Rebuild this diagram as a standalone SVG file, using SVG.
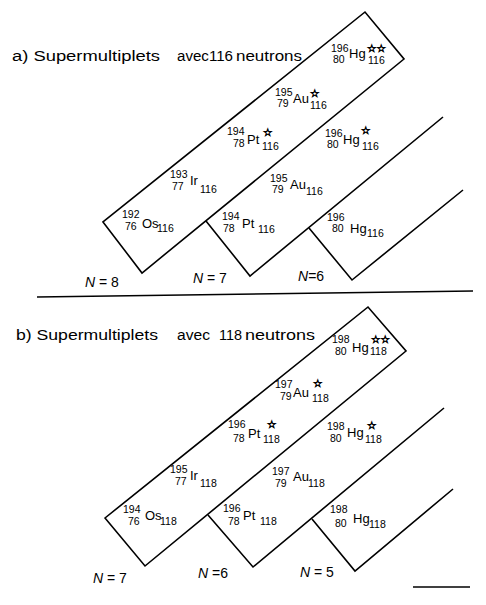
<svg xmlns="http://www.w3.org/2000/svg" width="486" height="605" viewBox="0 0 486 605">
<style>
.ln{fill:none;stroke:#000;stroke-width:1.6;stroke-linejoin:miter}
.t{font-family:"Liberation Sans",Arial,sans-serif;fill:#000}
.ttl{font-size:14px}
.num{font-size:10.5px}
.sym{font-size:13px}
.star{font-family:"DejaVu Sans",sans-serif;font-size:10.5px;fill:#000;stroke:#000;stroke-width:0.7}
.nl{font-family:"Liberation Sans",Arial,sans-serif;font-size:14px;fill:#000}
.ni{font-style:italic}
</style>
<rect width="486" height="605" fill="#fff"/>
<g id="connectors">
<polygon class="ln" points="103,222 142,273 404,59 365,12"/>
<polyline class="ln" points="206,221 250,276 443,117"/>
<polyline class="ln" points="309,228 352,280 463,190"/>
<line class="ln" x1="37" y1="297" x2="473" y2="291"/>
<polygon class="ln" points="105,518 145,566 406,351 368,307"/>
<polyline class="ln" points="208,515 253,567 444,408"/>
<polyline class="ln" points="312,519 355,571 453,489"/>
<line class="ln" x1="413" y1="587" x2="470" y2="587"/>
</g>
<g id="title-a" class="t ttl">
<text x="12" y="61" textLength="148" lengthAdjust="spacingAndGlyphs">a) Supermultiplets</text>
<text x="177" y="61" textLength="56" lengthAdjust="spacingAndGlyphs">avec116</text>
<text x="236" y="61" textLength="66" lengthAdjust="spacingAndGlyphs">neutrons</text>
</g>
<g id="title-b" class="t ttl">
<text x="16" y="340" textLength="142" lengthAdjust="spacingAndGlyphs">b) Supermultiplets</text>
<text x="177" y="340" textLength="33" lengthAdjust="spacingAndGlyphs">avec</text>
<text x="219" y="340" textLength="23" lengthAdjust="spacingAndGlyphs">118</text>
<text x="245" y="340" textLength="70" lengthAdjust="spacingAndGlyphs">neutrons</text>
</g>
<!-- section a -->
<g id="a-hg196-2" class="t">
<text class="num" x="331" y="52">196</text><text class="num" x="333" y="63">80</text>
<text class="sym" x="349" y="58">Hg</text><text class="star" x="367" y="52">☆☆</text><text class="num" x="368" y="64">116</text>
</g>
<g id="a-au195-1" class="t">
<text class="num" x="275" y="96">195</text><text class="num" x="277" y="107">79</text>
<text class="sym" x="293" y="103">Au</text><text class="star" x="310" y="97">☆</text><text class="num" x="310" y="109">116</text>
</g>
<g id="a-pt194-1" class="t">
<text class="num" x="227" y="135">194</text><text class="num" x="233" y="147">78</text>
<text class="sym" x="247" y="144">Pt</text><text class="star" x="263" y="136">☆</text><text class="num" x="262" y="150">116</text>
</g>
<g id="a-ir193" class="t">
<text class="num" x="170" y="178">193</text><text class="num" x="172" y="190">77</text>
<text class="sym" x="190" y="185">Ir</text><text class="num" x="200" y="193">116</text>
</g>
<g id="a-os192" class="t">
<text class="num" x="122" y="218">192</text><text class="num" x="125" y="230">76</text>
<text class="sym" x="142" y="228">Os</text><text class="num" x="157" y="232">116</text>
</g>
<g id="a-hg196-1" class="t">
<text class="num" x="325" y="137">196</text><text class="num" x="327" y="148">80</text>
<text class="sym" x="343" y="144">Hg</text><text class="star" x="361" y="134">☆</text><text class="num" x="362" y="150">116</text>
</g>
<g id="a-au195" class="t">
<text class="num" x="270" y="182">195</text><text class="num" x="272" y="193">79</text>
<text class="sym" x="290" y="189">Au</text><text class="num" x="306" y="195">116</text>
</g>
<g id="a-pt194" class="t">
<text class="num" x="222" y="220">194</text><text class="num" x="223" y="232">78</text>
<text class="sym" x="242" y="228">Pt</text><text class="num" x="258" y="233">116</text>
</g>
<g id="a-hg196" class="t">
<text class="num" x="327" y="221">196</text><text class="num" x="332" y="232">80</text>
<text class="sym" x="350" y="233">Hg</text><text class="num" x="367" y="237">116</text>
</g>
<g id="a-n8"><text class="nl" x="85" y="287"><tspan class="ni">N</tspan> = 8</text></g>
<g id="a-n7"><text class="nl" x="193" y="283"><tspan class="ni">N</tspan> = 7</text></g>
<g id="a-n6"><text class="nl" x="298" y="281"><tspan class="ni">N</tspan>=6</text></g>
<!-- section b -->
<g id="b-hg198-2" class="t">
<text class="num" x="332" y="343">198</text><text class="num" x="335" y="355">80</text>
<text class="sym" x="352" y="352">Hg</text><text class="star" x="371" y="343">☆☆</text><text class="num" x="370" y="355">118</text>
</g>
<g id="b-au197-1" class="t">
<text class="num" x="275" y="388">197</text><text class="num" x="280" y="400">79</text>
<text class="sym" x="293" y="397">Au</text><text class="star" x="313" y="387">☆</text><text class="num" x="312" y="402">118</text>
</g>
<g id="b-pt196-1" class="t">
<text class="num" x="228" y="428">196</text><text class="num" x="233" y="442">78</text>
<text class="sym" x="248" y="438">Pt</text><text class="star" x="267" y="428">☆</text><text class="num" x="263" y="443">118</text>
</g>
<g id="b-ir195" class="t">
<text class="num" x="170" y="473">195</text><text class="num" x="175" y="485">77</text>
<text class="sym" x="190" y="480">Ir</text><text class="num" x="200" y="487">118</text>
</g>
<g id="b-os194" class="t">
<text class="num" x="123" y="513">194</text><text class="num" x="128" y="525">76</text>
<text class="sym" x="145" y="520">Os</text><text class="num" x="160" y="525">118</text>
</g>
<g id="b-hg198-1" class="t">
<text class="num" x="327" y="430">198</text><text class="num" x="330" y="442">80</text>
<text class="sym" x="347" y="437">Hg</text><text class="star" x="367" y="429">☆</text><text class="num" x="365" y="443">118</text>
</g>
<g id="b-au197" class="t">
<text class="num" x="272" y="475">197</text><text class="num" x="275" y="487">79</text>
<text class="sym" x="293" y="481">Au</text><text class="num" x="308" y="487">118</text>
</g>
<g id="b-pt196" class="t">
<text class="num" x="223" y="512">196</text><text class="num" x="228" y="525">78</text>
<text class="sym" x="243" y="520">Pt</text><text class="num" x="260" y="525">118</text>
</g>
<g id="b-hg198" class="t">
<text class="num" x="330" y="513">198</text><text class="num" x="335" y="527">80</text>
<text class="sym" x="353" y="523">Hg</text><text class="num" x="369" y="528">118</text>
</g>
<g id="b-n7"><text class="nl" x="93" y="583"><tspan class="ni">N</tspan> = 7</text></g>
<g id="b-n6"><text class="nl" x="198" y="578"><tspan class="ni">N</tspan> =6</text></g>
<g id="b-n5"><text class="nl" x="300" y="577"><tspan class="ni">N</tspan> = 5</text></g>
</svg>
